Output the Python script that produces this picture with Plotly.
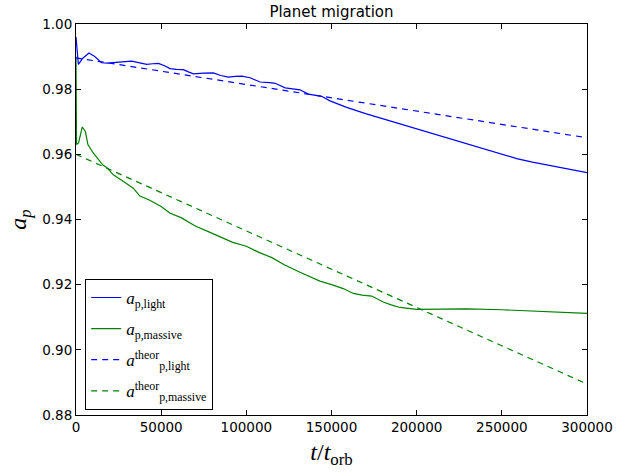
import plotly.graph_objects as go

# ---- data ----
t_light = [0, 700, 1400, 4000, 7600, 11000, 15000, 18500, 21900, 27000, 32700, 37000, 41500, 45000,
           48400, 52000, 55200, 59000, 63000, 66000, 68900, 75000, 80600, 85000, 89400, 93500, 97300,
           102200, 108000, 113800, 116900, 122800, 127000, 131500, 136400, 140000, 144200, 149100,
           158900, 170000, 180400, 190000, 200000, 210000, 219600, 230000, 239100, 250000, 258700,
           268000, 278300, 290000, 300000]
a_light = [0.996, 0.990, 0.9876, 0.9895, 0.9911, 0.9900, 0.9881, 0.9880, 0.9882, 0.9884, 0.9886, 0.9882,
           0.9876, 0.9878, 0.9879, 0.9872, 0.9863, 0.9861, 0.9860, 0.9853, 0.9847, 0.9849, 0.9850,
           0.9842, 0.9837, 0.9839, 0.9840, 0.9835, 0.9822, 0.9820, 0.9818, 0.9804, 0.9802, 0.9798,
           0.9785, 0.9782, 0.9778, 0.9764, 0.9744, 0.9725, 0.9709, 0.9693, 0.9678, 0.9662, 0.9648,
           0.9632, 0.9618, 0.9601, 0.9587, 0.9576, 0.9565, 0.9554, 0.9544]

t_massive = [0, 300, 1500, 3700, 5500, 7000, 10000, 15800, 18000, 21900, 27000, 33600, 37500, 43000,
             50000, 55000, 62000, 70000, 78000, 85000, 92000, 100000, 107000, 115000, 122000, 131500,
             137000, 143200, 150000, 156900, 162800, 168000, 173600, 180400, 185000, 190200, 200000,
             215000, 229300, 250000, 268300, 285000, 300000]
a_massive = [0.990, 0.963, 0.9635, 0.9684, 0.9670, 0.9630, 0.9605, 0.9567, 0.9560, 0.9537, 0.9520,
             0.9496, 0.9472, 0.9460, 0.9440, 0.9420, 0.9405, 0.9380, 0.9362, 0.9345, 0.9330, 0.9318,
             0.9300, 0.9283, 0.9262, 0.9238, 0.9225, 0.9211, 0.9200, 0.9188, 0.9173, 0.9168, 0.9165,
             0.9147, 0.9138, 0.9130, 0.9124, 0.9125, 0.9126, 0.9123, 0.9119, 0.9115, 0.9112]

t_theor = [0, 300000]
a_theor_light = [0.9896, 0.9651]
a_theor_massive = [0.9600, 0.8895]

x_ticks = [0, 50000, 100000, 150000, 200000, 250000, 300000]
y_ticks = [0.88, 0.90, 0.92, 0.94, 0.96, 0.98, 1.00]

BLUE = "#0000ff"
GREEN = "#008000"
leg_font = dict(family="Liberation Serif", size=17, color="black")

fig = go.Figure()
fig.add_trace(go.Scatter(x=t_light, y=a_light, mode="lines", line=dict(color=BLUE, width=1.2),
                         legendgroup="g1", name="<i>a</i><sub>p,light</sub>"))
fig.add_trace(go.Scatter(x=t_massive, y=a_massive, mode="lines", line=dict(color=GREEN, width=1.2),
                         legendgroup="g2", name="<i>a</i><sub>p,massive</sub>"))
fig.add_trace(go.Scatter(x=t_theor, y=a_theor_light, mode="lines",
                         line=dict(color=BLUE, width=1.2, dash="6px,5px"),
                         legendgroup="g3", name="<i>a</i><sup>theor</sup><sub>p,light</sub>"))
fig.add_trace(go.Scatter(x=t_theor, y=a_theor_massive, mode="lines",
                         line=dict(color=GREEN, width=1.2, dash="6px,5px"),
                         legendgroup="g4", name="<i>a</i><sup>theor</sup><sub>p,massive</sub>"))

axis_common = dict(showline=True, linecolor="black", linewidth=1, mirror="ticks", ticks="inside",
                   ticklen=5, tickcolor="black", showgrid=False, zeroline=False,
                   tickfont=dict(family="DejaVu Sans", size=13.5, color="black"))

fig.update_xaxes(range=[0, 300000], tickvals=x_ticks, tickformat="d",
                 title=dict(text="<i>t</i>/<i>t</i><sub>orb</sub>",
                            font=dict(family="Liberation Serif", size=24, color="black"), standoff=8),
                 **axis_common)
fig.update_yaxes(range=[0.88, 1.00], tickvals=y_ticks, tickformat=".2f",
                 title=dict(text="<i>a</i><sub><i>p</i></sub>",
                            font=dict(family="Liberation Serif", size=24, color="black"), standoff=8),
                 **axis_common)

fig.update_layout(
    width=635, height=472,
    margin=dict(l=76, r=48, t=24, b=52),
    paper_bgcolor="white", plot_bgcolor="white",
    title=dict(text="Planet migration", x=0.522, xanchor="center", y=0.975, yanchor="middle",
               font=dict(family="DejaVu Sans", size=15, color="black")),
    legend=dict(x=0.018, y=0.348, xanchor="left", yanchor="top", bgcolor="white",
                bordercolor="black", borderwidth=1, font=leg_font, itemwidth=30,
                tracegroupgap=6),
    showlegend=True,
)

fig.write_html("out.html")
